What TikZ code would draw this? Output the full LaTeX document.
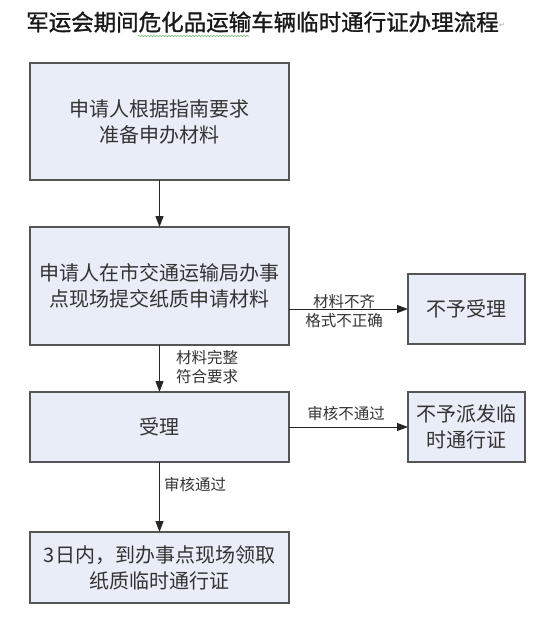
\documentclass[tikz,border=0pt]{standalone}
\usepackage{fontspec}
\setmainfont{Noto Sans CJK SC}
\newfontfamily\titlefont[FakeBold=1.2]{Noto Sans CJK SC}
\usetikzlibrary{arrows.meta,decorations.pathmorphing}
\definecolor{boxfill}{HTML}{E9EDF8}
\definecolor{boxline}{HTML}{555555}
\definecolor{txt}{HTML}{333333}
\newfontfamily\symfont{DejaVu Sans}
\begin{document}
\begin{tikzpicture}[x=1pt,y=1pt,
  box/.style={draw=boxline,fill=boxfill,line width=1.3pt,inner sep=0pt,outer sep=0pt,
    align=center,text=txt,font=\fontsize{20}{26}\selectfont},
  lbl/.style={text=txt,font=\fontsize{15.5}{19}\selectfont,inner sep=0pt,align=center},
  arr/.style={draw=black!85,line width=1pt,-{Triangle[length=11pt,width=8pt]}}]
\useasboundingbox[fill=white] (0,0) rectangle (560,-630);
\node[text=black!90,font=\titlefont\fontsize{22.5}{26}\selectfont,anchor=west,inner sep=0pt] (title) at (26,-22) {军运会期间危化品运输车辆临时通行证办理流程};
\node[text=black!35,font=\symfont\fontsize{7}{8}\selectfont,anchor=west,inner sep=0pt] (ret) at ([yshift=-3pt]title.east) {↵};
\coordinate (wa) at (138,-36);
\coordinate (wb) at (249,-36);
\draw[green!45!black!50,line width=0.6pt,decorate,decoration={snake,amplitude=0.8pt,segment length=3pt}] (wa) -- (wb);

\node[box,minimum width=259pt,minimum height=117pt] (b1) at (159.5,-121.5) {申请人根据指南要求\\准备申办材料};
\node[box,minimum width=259pt,minimum height=118pt] (b2) at (159.5,-286) {申请人在市交通运输局办事\\点现场提交纸质申请材料};
\node[box,minimum width=259pt,minimum height=70pt] (b3) at (159.5,-427) {受理};
\node[box,minimum width=259pt,minimum height=71pt] (b4) at (159.5,-567.5) {3日内，到办事点现场领取\\纸质临时通行证};
\node[box,minimum width=117pt,minimum height=70pt] (r1) at (466.5,-309) {不予受理};
\node[box,minimum width=117pt,minimum height=70pt] (r2) at (466.5,-427) {不予派发临\\时通行证};

\draw[arr] (b1.south) -- (b2.north);
\draw[arr] (b2.south) -- (b3.north);
\draw[arr] (b3.south) -- (b4.north);
\draw[arr] (b2.east |- r1.west) -- (r1.west);
\draw[arr] (b3.east) -- (r2.west);

\node[lbl] (l1) at (344,-311) {材料不齐\\格式不正确};
\node[lbl,anchor=west] (l2) at (176,-367) {材料完整\\符合要求};
\node[lbl] (l3) at (346,-414) {审核不通过};
\node[lbl,anchor=west] (l4) at (164,-485) {审核通过};
\end{tikzpicture}
\end{document}
